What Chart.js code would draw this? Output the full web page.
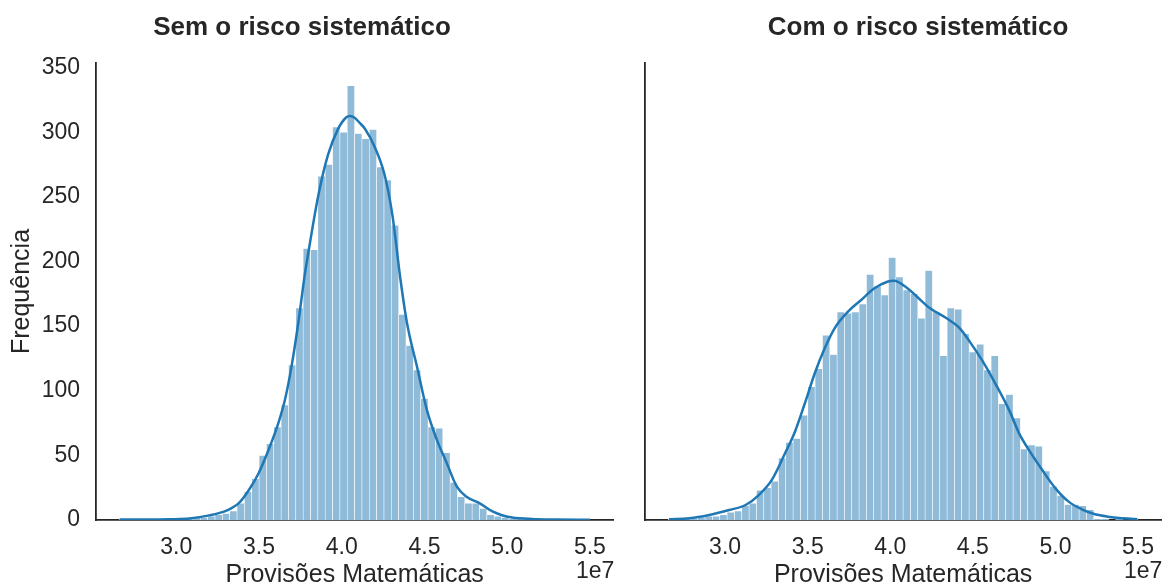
<!DOCTYPE html>
<html>
<head>
<meta charset="utf-8">
<script src="https://cdn.jsdelivr.net/npm/chart.js@4.4.1/dist/chart.umd.min.js"></script>
<style>
  html, body { margin: 0; padding: 0; background: #fff; }
  #wrap { position: relative; width: 1168px; height: 586px; overflow: hidden; }
  canvas { position: absolute; top: 0; }
  #left { left: 0; }
  #right { left: 620px; }
</style>
</head>
<body>
<div id="wrap">
  <canvas id="left" width="620" height="586"></canvas>
  <canvas id="right" width="548" height="586"></canvas>
</div>
<script>
// Histogram bins (values in R$, axis shown in units of 1e7)
const binStart = 2.657e7;
const binWidth = 0.0444e7;

// Frequency per bin, without systematic risk
const countsSem = [
  1, 0, 0, 1, 0, 1, 1, 1, 2, 1,
  2, 2, 3, 4, 5, 7, 13, 22, 32, 50,
  59, 72, 89, 120, 164, 210, 209, 266, 275, 304,
  300, 336, 299, 295, 302, 273, 263, 228, 159, 135,
  116, 94, 72, 71, 52, 29, 18, 13, 13, 9,
  4, 3, 2, 1, 1, 1, 0, 1, 0, 0,
  0, 0, 0, 1
];

// Frequency per bin, with systematic risk
const countsCom = [
  1, 0, 1, 1, 2, 3, 3, 4, 6, 7,
  11, 13, 23, 25, 30, 48, 60, 63, 81, 103,
  117, 143, 128, 161, 160, 161, 167, 190, 181, 174,
  203, 188, 178, 175, 156, 193, 161, 127, 164, 163,
  144, 130, 136, 116, 127, 90, 97, 79, 55, 58,
  57, 38, 26, 19, 12, 12, 11, 8, 1, 1,
  0, 1, 0, 1
];

// Density curves (x in units of 1e7, y scaled to counts)
const kdeSemX = [2.658, 2.80, 2.95, 3.08, 3.20, 3.307, 3.378, 3.438, 3.497, 3.557,
  3.617, 3.657, 3.697, 3.737, 3.777, 3.796, 3.857, 3.916, 3.976, 4.028,
  4.05, 4.08, 4.11, 4.138, 4.198, 4.257, 4.305, 4.355, 4.395, 4.455,
  4.515, 4.575, 4.635, 4.695, 4.754, 4.834, 4.914, 4.964, 5.03, 5.15, 5.30, 5.50];
const kdeSemY = [0.3, 0.4, 0.6, 1.2, 3.6, 7.5, 13, 23, 36, 54,
  75, 93, 119, 152, 190, 205, 250, 282, 302, 311.5,
  312.5, 311, 307, 303, 289, 268, 237, 186, 152, 118.6,
  85, 62, 44, 26, 18, 12.9, 6.4, 3.9, 2.0, 0.8, 0.3, 0.1];

const kdeComX = [2.66, 2.784, 2.904, 3.024, 3.124, 3.204, 3.283, 3.363, 3.423, 3.483,
  3.543, 3.603, 3.663, 3.743, 3.822, 3.902, 3.982, 4.022, 4.102, 4.162,
  4.241, 4.341, 4.421, 4.481, 4.561, 4.641, 4.72, 4.78, 4.84, 4.92,
  5.0, 5.08, 5.16, 5.24, 5.319, 5.497];
const kdeComY = [0.5, 1.3, 3.9, 7.7, 11.6, 19.3, 31, 51.6, 68.3, 90.3,
  113.5, 132.8, 148.3, 161, 170, 179, 184.3, 185, 179.5, 172.7,
  163.7, 156, 148.3, 138, 122.5, 104.4, 85, 67, 54, 38.7,
  24.5, 14.2, 8.3, 4.4, 2.6, 0.5];

// Tick labels
const xTicks = [3.0, 3.5, 4.0, 4.5, 5.0, 5.5];
const yTicks = [0, 50, 100, 150, 200, 250, 300, 350];

const titles = ['Sem o risco sistemático', 'Com o risco sistemático'];
const xLabel = 'Provisões Matemáticas';
const yLabel = 'Frequência';
const offsetLabel = '1e7';

const SCALE = 1e7;
const X_MIN = 2.515e7, X_MAX = 5.641e7, Y_MAX = 353.5;
const INK = '#262626';
const FONT = 'Liberation Sans, Arial, sans-serif';

function barPoints(counts) {
  return counts.map((c, i) => ({ x: binStart + (i + 0.5) * binWidth, y: c }));
}
function curvePoints(xs, ys) {
  return xs.map((x, i) => ({ x: x * SCALE, y: ys[i] }));
}

// Panel title and axis offset text
const panelText = {
  id: 'panelText',
  afterDraw(chart, args, opts) {
    const ctx = chart.ctx;
    ctx.save();
    ctx.fillStyle = INK;
    ctx.textBaseline = 'middle';
    ctx.textAlign = 'center';
    ctx.font = 'bold 26px ' + FONT;
    ctx.fillText(opts.title, opts.titleX, opts.titleY);
    ctx.textAlign = 'right';
    ctx.font = '23px ' + FONT;
    ctx.fillText(offsetLabel, chart.chartArea.right + 1, opts.offsetY);
    ctx.restore();
  }
};

function makeChart(id, counts, kx, ky, withYAxis, titleText, titleX) {
  return new Chart(document.getElementById(id), {
    type: 'bar',
    data: {
      datasets: [
        {
          type: 'line',
          data: curvePoints(kx, ky),
          borderColor: '#1f77b4',
          borderWidth: 2.5,
          pointRadius: 0,
          cubicInterpolationMode: 'monotone',
          fill: false,
          order: 0
        },
        {
          type: 'bar',
          data: barPoints(counts),
          backgroundColor: 'rgb(143,187,217)',
          borderColor: '#ffffff',
          borderWidth: { left: 0.6, right: 0.6, top: 0.6, bottom: 0 },
          borderSkipped: false,
          barPercentage: 1,
          categoryPercentage: 1,
          order: 1
        }
      ]
    },
    options: {
      responsive: false,
      animation: false,
      layout: { padding: { top: 63, left: withYAxis ? 0 : 25, right: withYAxis ? 2 : 0, bottom: 0 } },
      plugins: {
        legend: { display: false },
        tooltip: { enabled: false },
        panelText: { title: titleText, titleX: titleX, titleY: 28, offsetY: 572 }
      },
      scales: {
        x: {
          type: 'linear',
          min: X_MIN,
          max: X_MAX,
          offset: false,
          grid: { display: false, drawTicks: false },
          border: { display: true, color: INK, width: 1.8 },
          afterBuildTicks: s => { s.ticks = xTicks.map(v => ({ value: v * SCALE })); },
          afterFit: s => { s.height = 66; },
          ticks: {
            color: INK,
            font: { family: FONT, size: 23 },
            padding: 14,
            maxRotation: 0,
            callback: v => (v / SCALE).toFixed(1)
          },
          title: {
            display: true,
            text: xLabel,
            color: INK,
            font: { family: FONT, size: 25 },
            padding: { top: 0, bottom: -4 }
          }
        },
        y: {
          min: 0,
          max: Y_MAX,
          grid: { display: false, drawTicks: false },
          border: { display: true, color: INK, width: 1.8 },
          afterBuildTicks: s => { s.ticks = yTicks.map(v => ({ value: v })); },
          afterFit: s => { s.width = withYAxis ? 96 : 0; },
          ticks: {
            display: withYAxis,
            color: INK,
            font: { family: FONT, size: 23 },
            padding: 16
          },
          title: {
            display: withYAxis,
            text: yLabel,
            color: INK,
            font: { family: FONT, size: 25 },
            padding: { top: 7, bottom: 0 }
          }
        }
      }
    },
    plugins: [panelText]
  });
}

makeChart('left', countsSem, kdeSemX, kdeSemY, true, titles[0], 302);
makeChart('right', countsCom, kdeComX, kdeComY, false, titles[1], 918 - 620);
</script>
</body>
</html>
